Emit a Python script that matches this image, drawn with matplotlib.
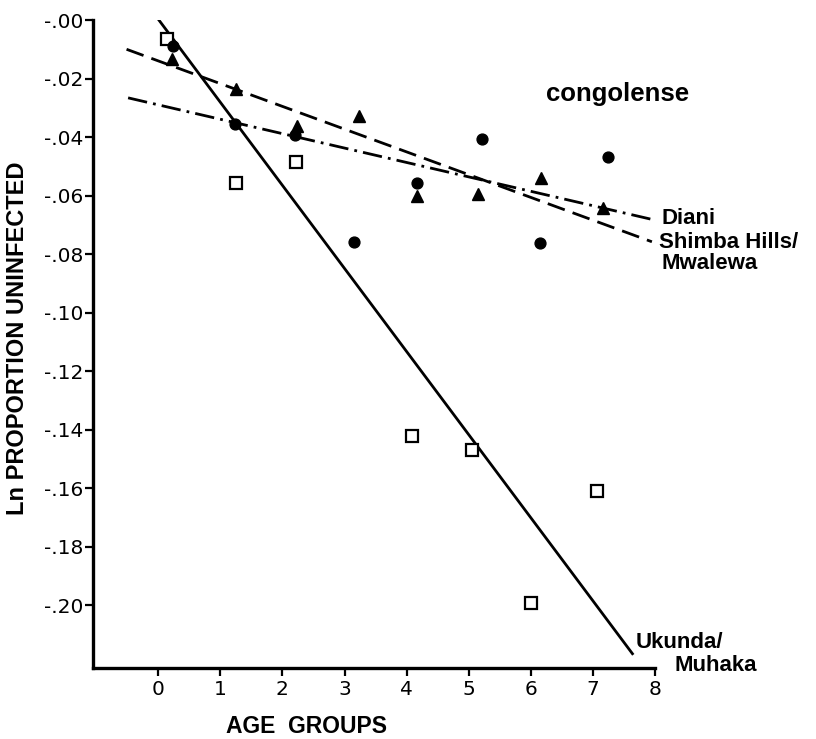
import matplotlib
matplotlib.use("Agg")
import matplotlib.pyplot as plt

plt.rcParams['font.family'] = ['Liberation Sans', 'DejaVu Sans']

# age group positions and Ln proportion uninfected
diani_x = [0.24, 1.235, 2.20, 3.16, 4.17, 5.21, 6.15, 7.24]
diani_y = [-0.0088, -0.0356, -0.0393, -0.0760, -0.0558, -0.0408, -0.0761, -0.0467]

shimba_x = [0.215, 1.26, 2.23, 3.23, 4.17, 5.15, 6.16, 7.16]
shimba_y = [-0.0134, -0.0237, -0.0362, -0.0328, -0.0602, -0.0595, -0.0541, -0.0644]

ukunda_x = [0.135, 1.25, 2.22, 4.08, 5.06, 6.00, 7.07]
ukunda_y = [-0.0066, -0.0556, -0.0484, -0.1422, -0.1470, -0.1992, -0.1610]

# fitted lines (end points)
diani_fit_x = [-0.485, 8.0]
diani_fit_y = [-0.0266, -0.0684]
shimba_fit_x = [-0.51, 7.95]
shimba_fit_y = [-0.0100, -0.0758]
ukunda_fit_x = [0.0, 7.65]
ukunda_fit_y = [0.0003, -0.2170]

x_ticks = [0, 1, 2, 3, 4, 5, 6, 7, 8]
y_ticks = [0, -0.02, -0.04, -0.06, -0.08, -0.10, -0.12, -0.14, -0.16, -0.18, -0.20]
y_tick_labels = ["-.00", "-.02", "-.04", "-.06", "-.08", "-.10",
                 "-.12", "-.14", "-.16", "-.18", "-.20"]

fig = plt.figure(figsize=(8.16, 7.39), dpi=100)
ax = fig.add_axes([0.114, 0.0961, 0.6887, 0.8768])

# regression lines
ax.plot(ukunda_fit_x, ukunda_fit_y, color='black', lw=2.0, solid_capstyle='butt')
ax.plot(shimba_fit_x, shimba_fit_y, color='black', lw=2.0, dashes=(6.5, 3.0))
ax.plot(diani_fit_x, diani_fit_y, color='black', lw=2.0, dashes=(7.0, 2.2, 1.0, 2.2))

# points
ax.plot(ukunda_x, ukunda_y, 's', ms=8, mfc='white', mec='black', mew=1.6, zorder=3)
ax.plot(shimba_x, shimba_y, '^', ms=8.5, color='black', zorder=4)
ax.plot(diani_x, diani_y, 'o', ms=7.8, color='black', zorder=4)

ax.set_xlim(-1.05, 8)
ax.set_ylim(-0.2215, 0)

ax.set_xticks(x_ticks)
ax.set_yticks(y_ticks)
ax.set_yticklabels(y_tick_labels)

for side in ['top', 'right']:
    ax.spines[side].set_visible(False)
for side in ['left', 'bottom']:
    ax.spines[side].set_linewidth(2.4)

ax.tick_params(axis='both', direction='out', length=6, width=1.6, labelsize=14.5)
ax.tick_params(axis='y', pad=1)
ax.tick_params(axis='x', pad=3)
for t in ax.get_xticklabels() + ax.get_yticklabels():
    t.set_family(['DejaVu Sans'])

lab = dict(fontsize=16, fontweight='bold', clip_on=False, va='center', ha='left')
ax.text(8.11, -0.0680, "Diani", **lab)
ax.text(8.06, -0.0761, "Shimba Hills/", **lab)
ax.text(8.10, -0.0834, "Mwalewa", **lab)
ax.text(7.68, -0.2129, "Ukunda/", **lab)
ax.text(8.32, -0.2205, "Muhaka", **lab)
ax.text(7.39, -0.0253, "congolense", fontsize=18.5, fontweight='bold',
        ha='center', va='center', clip_on=False)

fig.text(0.376, 0.0166, "AGE  GROUPS", fontsize=16.5, fontweight='bold',
         ha='center', va='center')
fig.text(0.022, 0.542, "Ln PROPORTION UNINFECTED", fontsize=17, fontweight='bold',
         rotation=90, ha='center', va='center')

fig.savefig("out.png", dpi=100)
